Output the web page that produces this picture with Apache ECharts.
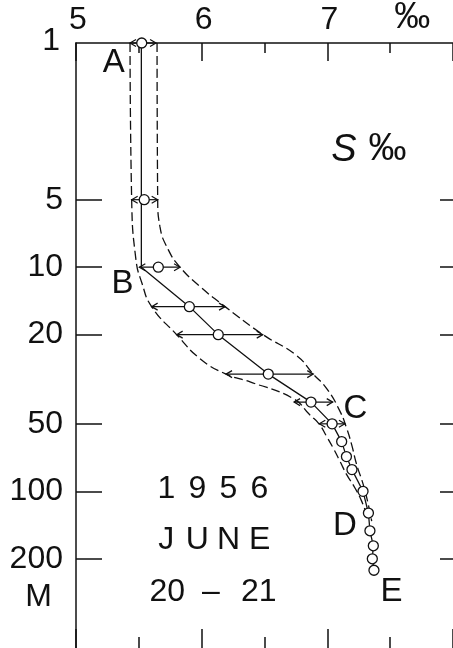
<!DOCTYPE html>
<html><head><meta charset="utf-8">
<script src="https://cdn.jsdelivr.net/npm/echarts@6/dist/echarts.min.js"></script>
<style>html,body{margin:0;padding:0;background:#fff}#c{width:453px;height:648px}</style>
</head><body><div id="c"></div>
<script>
// ---- data ----
const depthTicks = [5, 10, 20, 50, 100, 200];
const depthLabels = [1, 5, 10, 20, 50, 100, 200];
const depthUnitAt = 297;          // where the "M" unit sits under the depth labels
const salinityLabels = [5, 6, 7, 7.5];

// observed salinity (circles)
const obsDepth = [1, 5, 10, 15, 20, 30, 40, 50, 60, 70, 80, 100, 125, 150, 175, 200, 225];
const obsSal   = [5.523, 5.543, 5.655, 5.902, 6.132, 6.530, 6.870, 7.038, 7.114, 7.152, 7.196, 7.284, 7.327, 7.339, 7.366, 7.358, 7.371];

// range arrows
const barDepth = [1, 5, 10, 15, 20, 30, 40, 50];
const barLow   = [5.430, 5.443, 5.504, 5.602, 5.801, 6.194, 6.735, 6.936];
const barHigh  = [5.637, 5.650, 5.828, 6.186, 6.486, 6.888, 7.043, 7.140];

// solid profile A-B-C-D-E
const profileDepth = [1, 10, 15, 20, 30, 40, 50, 60, 70, 80, 100, 125, 150, 175, 200, 225];
const profileSal   = [5.52, 5.52, 5.902, 6.132, 6.530, 6.870, 7.038, 7.114, 7.152, 7.196, 7.284, 7.327, 7.339, 7.366, 7.358, 7.371];

// dashed envelopes
const leftEnvDepth = [1, 5, 9.25, 11.7, 15, 20, 25.6, 30, 32.5, 38.6, 45.7, 50, 57, 64.2, 73.5, 84.3, 96.6, 110.6, 126.9];
const leftEnvSal   = [5.430, 5.443, 5.477, 5.523, 5.602, 5.801, 5.987, 6.194, 6.385, 6.729, 6.862, 6.934, 6.995, 7.047, 7.101, 7.154, 7.220, 7.273, 7.313];
const rightEnvDepth = [1, 5, 6.6, 8.35, 10, 12.2, 15, 20, 24.8, 30, 34.8, 44, 52.4, 62.1, 76.2, 93.4, 114.5, 135.7];
const rightEnvSal   = [5.645, 5.650, 5.668, 5.734, 5.828, 5.987, 6.186, 6.488, 6.756, 6.888, 6.995, 7.101, 7.154, 7.194, 7.234, 7.286, 7.326, 7.353];

// annotations
const noteText  = ['A', 'B', 'C', 'D', 'E'];
const noteSal   = [5.30, 5.37, 7.224, 7.14, 7.51];
const noteDepth = [1.23, 11.9, 42.7, 142, 280];

const dateLines = ['1956', 'JUNE', '20 – 21'];
const datePos = [6.09, 166];
const unitText = ['S', '‰'];
const unitPos = [7.33, 3.0];

// ---- chart ----
const FONT = 'Liberation Sans';
const INK = '#111';
const zip = (a, b) => a.map((v, i) => [v, b[i]]);

function cellTokens(str, style) {
  return str.split('').map(ch => '{' + style(ch) + '|' + ch + '}').join('');
}
const dateParts = dateLines[2].split(' ');
const dateFormatted =
  cellTokens(dateLines[0], () => 'd') + '\n' +
  cellTokens(dateLines[1], ch => ch === 'J' ? 'j' : (ch === 'E' ? 'e' : 'w')) + '\n' +
  '{a|' + dateParts[0] + '}{g|' + dateParts[1] + '}{b|' + dateParts[2] + '}';

const chart = echarts.init(document.getElementById('c'), null, {renderer: 'canvas'});
const baseText = {fontFamily: FONT, color: INK, fontSize: 32, lineHeight: 51.5};
const hiddenSymbol = {symbolSize: 1, itemStyle: {color: 'rgba(0,0,0,0)', opacity: 1}};

const option = {
  animation: false,
  backgroundColor: '#fff',
  textStyle: {fontFamily: FONT, color: INK},
  grid: {left: 76, right: 0, top: 42, height: 609, containLabel: false},
  xAxis: [
    {
      type: 'value', position: 'top', min: 5, max: 8, interval: 1,
      axisLine: {show: true, onZero: false, lineStyle: {color: INK, width: 1.5}},
      axisTick: {show: true, inside: true, length: 18, lineStyle: {color: INK, width: 1.5}},
      minorTick: {show: true, splitNumber: 2, length: 10, lineStyle: {color: INK, width: 1.5}},
      splitLine: {show: false}, minorSplitLine: {show: false},
      axisLabel: {
        show: true, customValues: salinityLabels, margin: 7,
        fontFamily: FONT, fontSize: 32, color: INK,
        formatter: v => Math.abs(v - 7.5) < 1e-6 ? '{p|‰}' : '{q|' + Math.round(v) + '}',
        rich: {
          p: {fontFamily: FONT, fontSize: 36, color: INK, padding: [0, 0, 0, 44]},
          q: {fontFamily: FONT, fontSize: 32, color: INK, padding: [0, 0, 0, 4]}
        }
      }
    },
    {
      type: 'value', position: 'bottom', min: 5, max: 8, interval: 1,
      axisLine: {show: false},
      axisTick: {show: true, inside: true, length: 19, lineStyle: {color: INK, width: 1.5}},
      minorTick: {show: true, splitNumber: 2, length: 11, lineStyle: {color: INK, width: 1.5}},
      splitLine: {show: false}, axisLabel: {show: false}
    }
  ],
  yAxis: [
    {
      type: 'log', logBase: 10, inverse: true, min: 1, max: 500, position: 'left',
      axisLine: {show: true, onZero: false, lineStyle: {color: INK, width: 1.5}},
      axisTick: {show: true, inside: true, length: 26, customValues: depthTicks, lineStyle: {color: INK, width: 1.5}},
      minorTick: {show: false}, splitLine: {show: false}, minorSplitLine: {show: false},
      axisLabel: {
        show: true, customValues: depthLabels.concat([depthUnitAt]), margin: 13, hideOverlap: false,
        fontFamily: FONT, fontSize: 32, color: INK,
        formatter: v => {
          const r = Math.round(v);
          if (r === depthUnitAt) return '{m|M}';
          return r === 1 ? '{o|1}' : String(r);
        },
        rich: {
          m: {fontFamily: FONT, fontSize: 32, color: INK, padding: [0, 11, 0, 0]},
          o: {fontFamily: FONT, fontSize: 32, color: INK, padding: [0, 3, 3, 0]}
        }
      }
    },
    {
      type: 'log', logBase: 10, inverse: true, min: 1, max: 500, position: 'right',
      axisLine: {show: false},
      axisTick: {show: true, inside: true, length: 13, customValues: depthTicks, lineStyle: {color: INK, width: 1.5}},
      minorTick: {show: false}, splitLine: {show: false}, axisLabel: {show: false}
    }
  ],
  series: [
    {
      name: 'left envelope', type: 'line', xAxisIndex: 0, yAxisIndex: 0,
      data: zip(leftEnvSal, leftEnvDepth), smooth: 0.5,
      showSymbol: false, symbol: 'none', z: 1,
      lineStyle: {color: INK, width: 1.3, type: [9, 4]}
    },
    {
      name: 'right envelope', type: 'line', xAxisIndex: 0, yAxisIndex: 0,
      data: zip(rightEnvSal, rightEnvDepth), smooth: 0.5,
      showSymbol: false, symbol: 'none', z: 1,
      lineStyle: {color: INK, width: 1.3, type: [9, 4]}
    },
    {
      name: 'profile', type: 'line', xAxisIndex: 0, yAxisIndex: 0,
      data: zip(profileSal, profileDepth), showSymbol: false, symbol: 'none', z: 2,
      lineStyle: {color: INK, width: 1.3}
    },
    {
      name: 'range', type: 'custom', xAxisIndex: 0, yAxisIndex: 0, z: 3,
      data: barDepth.map((d, i) => [obsSal[obsDepth.indexOf(d)], d, barLow[i], barHigh[i]]),
      encode: {x: [0, 2, 3], y: 1},
      renderItem: (params, api) => {
        const d = api.value(1);
        const p1 = api.coord([api.value(2), d]);
        const p2 = api.coord([api.value(3), d]);
        const a = 6, h = 3.5;
        const st = {stroke: INK, lineWidth: 1.2, fill: null};
        return {type: 'group', children: [
          {type: 'line', shape: {x1: p1[0], y1: p1[1], x2: p2[0], y2: p2[1]}, style: st},
          {type: 'polyline', shape: {points: [[p1[0] + a, p1[1] - h], [p1[0], p1[1]], [p1[0] + a, p1[1] + h]]}, style: st},
          {type: 'polyline', shape: {points: [[p2[0] - a, p2[1] - h], [p2[0], p2[1]], [p2[0] - a, p2[1] + h]]}, style: st}
        ]};
      }
    },
    {
      name: 'observed', type: 'scatter', xAxisIndex: 0, yAxisIndex: 0, z: 5,
      data: zip(obsSal, obsDepth), symbol: 'circle', symbolSize: 10,
      itemStyle: {color: '#fff', borderColor: INK, borderWidth: 1.3, opacity: 1}
    },
    Object.assign({
      name: 'notes', type: 'scatter', xAxisIndex: 0, yAxisIndex: 0, z: 6, clip: false,
      data: noteText.map((t, i) => ({name: t, value: [noteSal[i], noteDepth[i]]})),
      label: {show: true, position: 'inside', formatter: p => p.name, opacity: 1,
              fontFamily: FONT, fontSize: 33, color: INK}
    }, hiddenSymbol),
    Object.assign({
      name: 'date', type: 'scatter', xAxisIndex: 0, yAxisIndex: 0, z: 6, clip: false,
      data: [{name: 'date', value: datePos}],
      label: {
        show: true, position: 'inside', formatter: () => dateFormatted, opacity: 1,
        fontFamily: FONT, fontSize: 32, color: INK, lineHeight: 51.5,
        rich: {
          d: Object.assign({}, baseText, {padding: [0, 6.6, 0, 6.6]}),
          j: Object.assign({}, baseText, {padding: [0, 7.5, 0, 7.5]}),
          w: Object.assign({}, baseText, {padding: [0, 4, 0, 4]}),
          e: Object.assign({}, baseText, {padding: [0, 4.9, 0, 4.9]}),
          a: Object.assign({}, baseText, {padding: [0, 17, 0, 0]}),
          g: Object.assign({}, baseText),
          b: Object.assign({}, baseText, {padding: [0, 0, 0, 21]})
        }
      }
    }, hiddenSymbol),
    Object.assign({
      name: 'unit', type: 'scatter', xAxisIndex: 0, yAxisIndex: 0, z: 6, clip: false,
      data: [{name: 'unit', value: unitPos}],
      label: {
        show: true, position: 'inside', opacity: 1,
        formatter: () => '{s|' + unitText[0] + '}{p|' + unitText[1] + '}',
        rich: {
          s: {fontFamily: FONT, fontSize: 38, fontStyle: 'italic', color: INK, padding: [0, 12, 0, 0]},
          p: {fontFamily: FONT, fontSize: 38, color: INK}
        }
      }
    }, hiddenSymbol)
  ]
};
chart.setOption(option);
</script>
</body></html>
